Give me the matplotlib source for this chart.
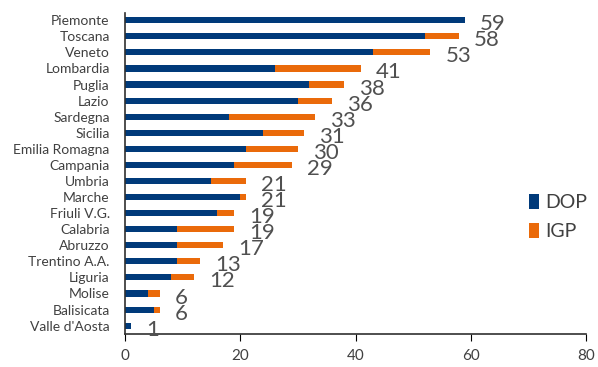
import matplotlib as mpl
mpl.use('Agg')
import matplotlib.pyplot as plt
import numpy as np

plt.rcParams['font.family'] = ['Lato', 'DejaVu Sans']

regions = ['Piemonte', 'Toscana', 'Veneto', 'Lombardia', 'Puglia', 'Lazio',
           'Sardegna', 'Sicilia', 'Emilia Romagna', 'Campania', 'Umbria',
           'Marche', 'Friuli V.G.', 'Calabria', 'Abruzzo', 'Trentino A.A.',
           'Liguria', 'Molise', 'Balisicata', "Valle d'Aosta"]
dop = [59, 52, 43, 26, 32, 30, 18, 24, 21, 19, 15, 20, 16, 9, 9, 9, 8, 4, 5, 1]
igp = [0, 6, 10, 15, 6, 6, 15, 7, 9, 10, 6, 1, 3, 10, 8, 4, 4, 2, 1, 0]
totals = [d + i for d, i in zip(dop, igp)]

navy = '#003A7A'
orange = '#EA6A0A'
txt = '#404040'

fig = plt.figure(figsize=(5.98, 3.67), dpi=100)
ax = fig.add_axes([125/598, 1 - 334/367, (586-125)/598, (334-13)/367])

y = np.arange(len(regions))
ax.barh(y, dop, height=0.38, color=navy, label='DOP')
ax.barh(y, igp, left=dop, height=0.38, color=orange, label='IGP')

# totals printed beside each bar
for yi, t in zip(y, totals):
    ax.text(t + 2.6, yi + 0.25, str(t), fontsize=16,
            color='#505050', va='center', ha='left')

ax.set_xlim(0, 80)
ax.set_ylim(19.52, -0.45)
ax.set_xticks([0, 20, 40, 60, 80])
ax.set_yticks(y)
ax.set_yticklabels(regions)
ax.tick_params(axis='y', length=0, labelsize=10, labelcolor=txt, pad=11)
ax.tick_params(axis='x', length=5, labelsize=11, labelcolor=txt, direction='out', pad=6)
for s in ['top', 'right']:
    ax.spines[s].set_visible(False)
for s in ['left', 'bottom']:
    ax.spines[s].set_color('#303030')
    ax.spines[s].set_linewidth(1.2)

fig.legend(loc='upper left', bbox_to_anchor=(521/598, 1 - 186/367), frameon=False,
           fontsize=14, handlelength=0.55, handleheight=0.8, handletextpad=0.3,
           labelspacing=0.6, labelcolor=txt, borderaxespad=0)

fig.savefig('out.png', dpi=100)
